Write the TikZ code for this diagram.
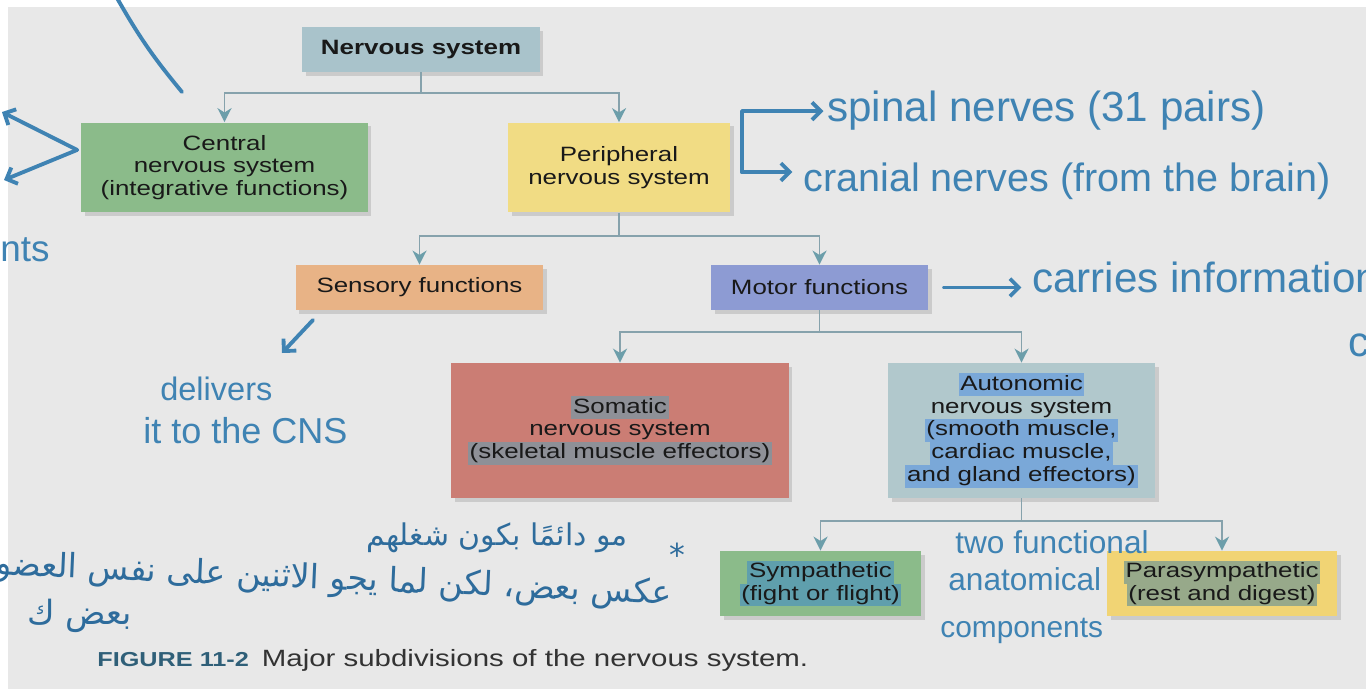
\documentclass[tikz,border=0pt]{standalone}
\usepackage{fontspec}
\setmainfont{Liberation Sans}
\newfontfamily\boxfont[FakeStretch=1.25]{Liberation Sans}
\newfontfamily\arabicfont[Script=Arabic]{DejaVu Sans}
\usetikzlibrary{positioning,arrows.meta,shadows}
\TeXXeTstate=1
\definecolor{paper}{HTML}{E8E8E8}
\definecolor{nsblue}{HTML}{A9C3CB}
\definecolor{cnsgreen}{HTML}{8BBB8A}
\definecolor{pnsyellow}{HTML}{F1DC84}
\definecolor{sensorange}{HTML}{E8B386}
\definecolor{motorblue}{HTML}{8D9BD3}
\definecolor{somred}{HTML}{CB7D74}
\definecolor{autgray}{HTML}{B1C8CC}
\definecolor{paryellow}{HTML}{F1D474}
\definecolor{linkgray}{HTML}{86A2AC}
\definecolor{tipteal}{HTML}{6C9EAA}
\definecolor{ink}{HTML}{3F83B3}
\definecolor{arink}{HTML}{2E6C9C}
\definecolor{capblue}{HTML}{2F5F78}
\definecolor{hlgray}{HTML}{8E9097}
\definecolor{hlblue}{HTML}{7AA8D8}
\definecolor{hlteal}{HTML}{5F9FAD}
\definecolor{hlolive}{HTML}{97A98A}
\newcommand{\hl}[2]{\vphantom{Ay(}\smash{\setlength{\fboxsep}{1pt}\colorbox{#1}{\vphantom{Ay(}#2}}}

\begin{document}
\begin{tikzpicture}[x=0.02cm, y=-0.02cm,
    box/.style={fill=#1, align=center, inner sep=0pt, text=black!90,
      font=\boxfont\fontsize{11.8}{13}\selectfont,
      drop shadow={shadow xshift=2pt, shadow yshift=-2pt, opacity=0.12, fill=black}},
    link/.style={draw=linkgray, line width=1.1pt},
    arrowto/.style={-{Stealth[length=8pt, width=8pt, inset=2.5pt, color=tipteal, fill=tipteal]}},
    pen/.style={draw=ink, line width=2.2pt, line cap=round, line join=round},
    pentip/.style={pen, -{Straight Barb[length=5pt, width=10pt]}},
    note/.style={text=ink, inner sep=0pt, font=\fontsize{#1}{#1}\selectfont},
    arnote/.style={text=arink, inner sep=0pt, font=\arabicfont\fontsize{#1}{#1}\selectfont},
  ]
  \useasboundingbox (0,0) rectangle (1366,689);
  \fill[white] (0,0) rectangle (1366,689);
  \fill[paper] (8,7) rectangle (1366,689);
  \clip (0,0) rectangle (1366,689);

  % boxes
  \node[box=nsblue, minimum width=4.76cm, minimum height=0.9cm,
    font=\boxfont\bfseries\fontsize{11.8}{13}\selectfont] (ns) at (421,49.5) {Nervous system};
  \node[box=cnsgreen, minimum width=5.74cm, minimum height=1.8cm] (cns) at (224.5,167.5)
    {Central\\nervous system\\(integrative functions)};
  \node[box=pnsyellow, minimum width=4.44cm, minimum height=1.8cm] (pns) at (619,167.5)
    {Peripheral\\nervous system};
  \node[box=sensorange, minimum width=4.96cm, minimum height=0.9cm] (sens) at (419.5,287.5) {Sensory functions};
  \node[box=motorblue, minimum width=4.34cm, minimum height=0.9cm] (mot) at (819.5,287.5) {Motor functions};
  \node[box=somred, minimum width=6.76cm, minimum height=2.7cm] (som) at (620,430.5)
    {\hl{hlgray}{Somatic}\\nervous system\\\hl{hlgray}{(skeletal muscle effectors)}};
  \node[box=autgray, minimum width=5.34cm, minimum height=2.7cm] (aut) at (1021.5,430.5)
    {\hl{hlblue}{Autonomic}\\nervous system\\\hl{hlblue}{(smooth muscle,}\\\hl{hlblue}{cardiac muscle,}\\\hl{hlblue}{and gland effectors)}};
  \node[box=cnsgreen, minimum width=4.02cm, minimum height=1.3cm] (sym) at (820.5,583.5)
    {\hl{hlteal}{Sympathetic}\\\hl{hlteal}{(fight or flight)}};
  \node[box=paryellow, minimum width=4.6cm, minimum height=1.3cm] (para) at (1222,583.5)
    {\hl{hlolive}{Parasympathetic}\\\hl{hlolive}{(rest and digest)}};

  % tree connectors
  \draw[link] (ns.south) -- ++(0,21) coordinate (j1);
  \draw[link, arrowto] (j1) -| (cns.north);
  \draw[link, arrowto] (j1) -| (pns.north);
  \draw[link] (pns.south) -- ++(0,23) coordinate (j2);
  \draw[link, arrowto] (j2) -| (sens.north);
  \draw[link, arrowto] (j2) -| (mot.north);
  \draw[link] (mot.south) -- ++(0,22) coordinate (j3);
  \draw[link, arrowto] (j3) -| (som.north);
  \draw[link, arrowto] (j3) -| (aut.north);
  \draw[link] (aut.south) -- ++(0,23) coordinate (j4);
  \draw[link, arrowto] (j4) -| (sym.north);
  \draw[link, arrowto] (j4) -| (para.north);

  % caption
  \node[anchor=base west, inner sep=0pt, text=capblue,
    font=\boxfont\bfseries\fontsize{11.5}{12}\selectfont] (fig) at (97,666) {FIGURE 11-2};
  \node[right=7pt of fig.base east, anchor=base west, inner sep=0pt, text=black!80,
    font=\boxfont\fontsize{13.4}{14}\selectfont] (cap) {Major subdivisions of the nervous system.};

  % handwritten notes
  \node[note=24, anchor=base west] (spinal) at (827,122) {spinal nerves (31 pairs)};
  \node[note=22.5, anchor=base west] (cranial) at (803,192) {cranial nerves (from the brain)};
  \coordinate (brk) at (742,172);
  \draw[pentip] (brk) |- ([xshift=-2pt]spinal.west);
  \draw[pentip] (brk) -- ([xshift=-6pt]cranial.west |- brk);

  \node[note=24, anchor=base west] (carries) at (1032,293) {carries information};
  \draw[pentip] ([xshift=9pt]mot.east) -- ([xshift=-6pt]carries.west |- mot.east);
  \node[note=24, anchor=base west] (cut) at (1348,357) {c};

  \node[note=18.5, anchor=base west] (deliv) at (160,400) {delivers};
  \node[note=20.5, anchor=base west] (tocns) at (143,443) {it to the CNS};
  \coordinate (chkA) at (313,320);
  \coordinate (chkB) at (282,353);
  \draw[pentip] (chkA) -- (chkB);

  \node[note=18, anchor=base west] (two) at (955,553) {two functional};
  \node[note=18, anchor=base west] (anat) at (948,590) {anatomical};
  \node[note=17, anchor=base west] (comp) at (940,637) {components};

  \node[note=21, anchor=base west] (nts) at (0,262) {nts};
  \coordinate (lu) at (2,112);
  \coordinate (ld) at (4,180);
  \draw[pentip] ([shift={(-2pt,10pt)}]cns.west) -- (lu);
  \draw[pentip] ([shift={(-2pt,10pt)}]cns.west) -- (ld);
  \coordinate (tc1) at (182,92);
  \coordinate (tc2) at (117,-2);
  \draw[pen] (tc1) to[bend left=5] (tc2);

  \node[arnote=17, anchor=base east] (ar1) at (628,545) {\beginR مو دائمًا بكون شغلهم\endR};
  \node[arnote=18, anchor=base east] (star) at (686,566) {*};
  \node[arnote=19, anchor=base east, rotate=-2.5] (ar2) at (672,604)
    {\beginR عكس بعض، لكن لما يجو الاثنين على نفس العضو\endR};
  \node[arnote=19, anchor=base east] (ar3) at (132,624) {\beginR بعض ك\endR};
\end{tikzpicture}
\end{document}
